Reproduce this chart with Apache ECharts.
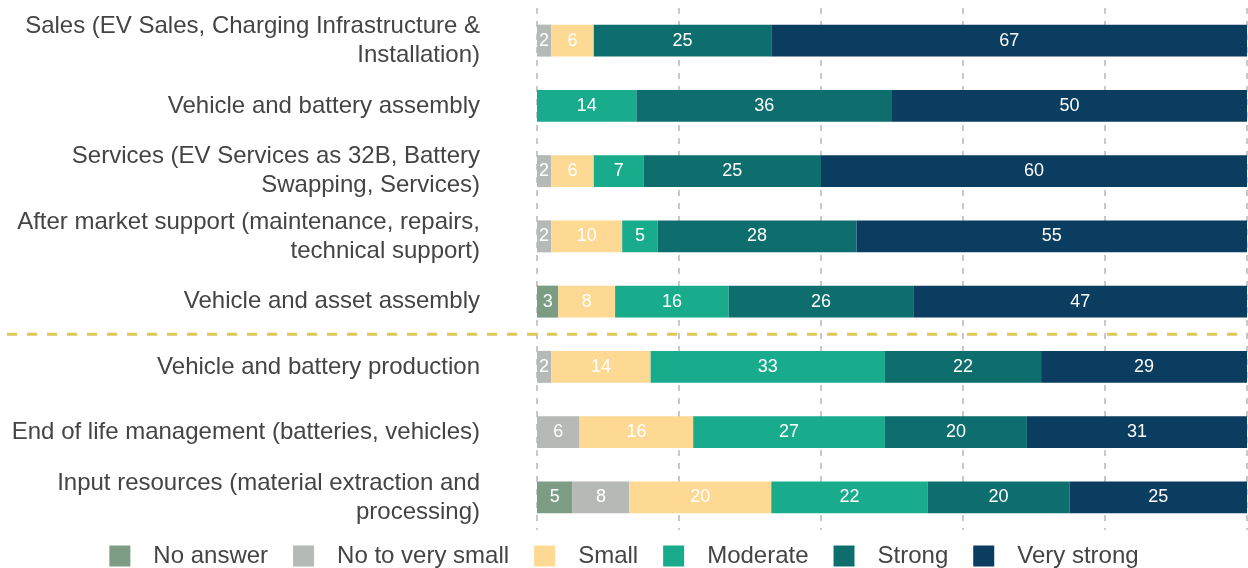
<!DOCTYPE html>
<html>
<head>
<meta charset="utf-8">
<script src="https://cdn.jsdelivr.net/npm/echarts@6/dist/echarts.min.js"></script>
<style>html,body{margin:0;padding:0;background:#fff;}#c{width:1248px;height:568px;}</style>
</head>
<body>
<div id="c"></div>
<script>
const categories = [
  'Sales (EV Sales, Charging Infrastructure &\nInstallation)',
  'Vehicle and battery assembly',
  'Services (EV Services as 32B, Battery\nSwapping, Services)',
  'After market support (maintenance, repairs,\ntechnical support)',
  'Vehicle and asset assembly',
  'Vehicle and battery production',
  'End of life management (batteries, vehicles)',
  'Input resources (material extraction and\nprocessing)'
];
const seriesNames = ['No answer', 'No to very small', 'Small', 'Moderate', 'Strong', 'Very strong'];
const noAnswer    = [0, 0, 0, 0, 3, 0, 0, 5];
const noToSmall   = [2, 0, 2, 2, 0, 2, 6, 8];
const small       = [6, 0, 6, 10, 8, 14, 16, 20];
const moderate    = [0, 14, 7, 5, 16, 33, 27, 22];
const strong      = [25, 36, 25, 28, 26, 22, 20, 20];
const veryStrong  = [67, 50, 60, 55, 47, 29, 31, 25];
const xTicks = [0, 20, 40, 60, 80, 100];

const values = [noAnswer, noToSmall, small, moderate, strong, veryStrong];
const colors = ['#7d9c84', '#b5bab6', '#fdd994', '#18ab8c', '#0e6e6e', '#0a3d5f'];
const FONT = 'Liberation Sans';

const chart = echarts.init(document.getElementById('c'));
const option = {
  animation: false,
  textStyle: { fontFamily: FONT },
  grid: { left: 537, right: 1, top: 8, bottom: 38, containLabel: false },
  xAxis: {
    type: 'value', min: xTicks[0], max: xTicks[xTicks.length - 1], interval: 20,
    axisLine: { show: false }, axisTick: { show: false }, axisLabel: { show: false },
    splitLine: { show: true, lineStyle: { color: '#b8b8b8', type: [6, 7], width: 1.5 } }
  },
  yAxis: {
    type: 'category', data: categories, inverse: true,
    axisLine: { show: false }, axisTick: { show: false },
    axisLabel: { fontSize: 24, color: '#444', margin: 57, lineHeight: 29, align: 'right', fontFamily: FONT }
  },
  legend: {
    data: seriesNames, top: 539, left: 'center', itemWidth: 21, itemHeight: 21, itemGap: 25,
    icon: 'rect',
    textStyle: { fontSize: 24, color: '#444', padding: [0, 0, 0, 18], fontFamily: FONT }
  },
  series: seriesNames.map((name, i) => ({
    name, type: 'bar', stack: 'total', barWidth: '49%',
    itemStyle: { color: colors[i] },
    label: {
      show: true, color: '#fff', fontSize: 18, fontFamily: FONT,
      formatter: p => (p.value ? String(p.value) : '')
    },
    data: values[i].map(v => (v === 0 ? null : v))
  }))
};
chart.setOption(option);

const y1 = chart.convertToPixel({ yAxisIndex: 0 }, categories[4]);
const y2 = chart.convertToPixel({ yAxisIndex: 0 }, categories[5]);
const ySep = (y1 + y2) / 2;
chart.setOption({
  graphic: [{
    type: 'line', silent: true,
    shape: { x1: 7, y1: ySep, x2: chart.getWidth(), y2: ySep },
    style: { stroke: '#dcc85a', lineWidth: 3, lineDash: [10, 10] },
    z: 10
  }]
});
</script>
</body>
</html>
